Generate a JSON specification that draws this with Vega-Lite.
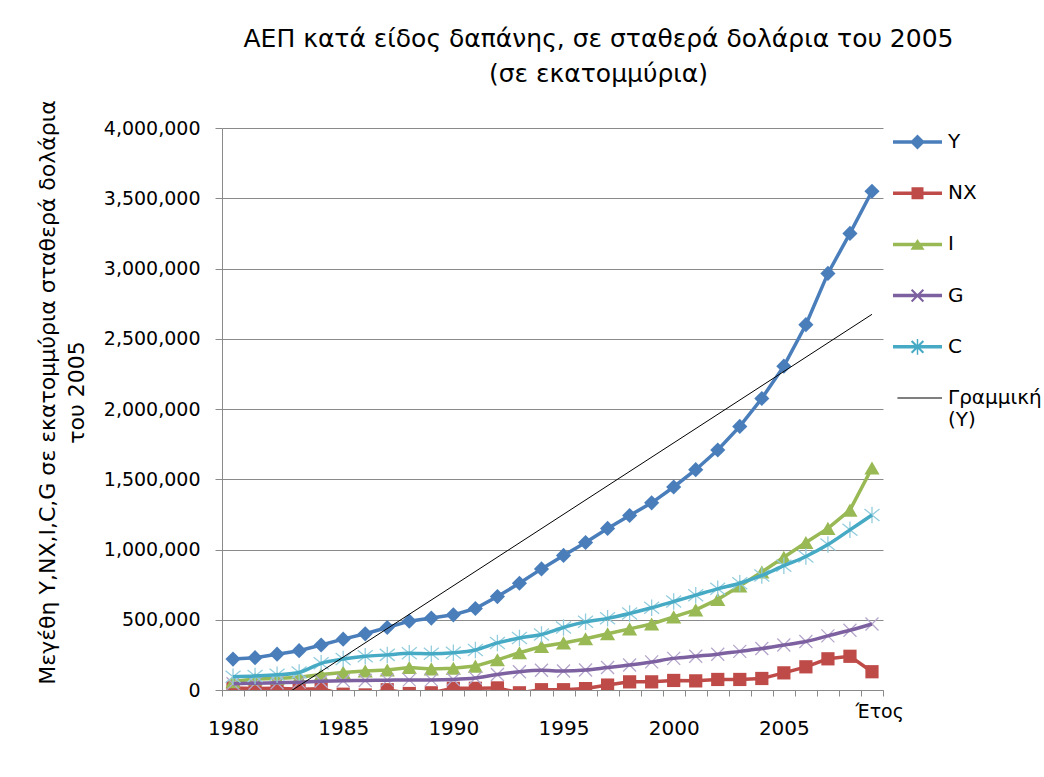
{
  "$schema": "https://vega.github.io/schema/vega-lite/v6.json",
  "autosize": {"type": "none"},
  "padding": {"left": 222, "top": 128, "right": 161, "bottom": 87},
  "width": 661,
  "height": 562,
  "background": "white",
  "title": {
    "text": ["ΑΕΠ κατά είδος δαπάνης, σε σταθερά δολάρια του 2005", "(σε εκατομμύρια)"],
    "fontSize": 25,
    "fontWeight": "normal",
    "font": "DejaVu Sans",
    "color": "black",
    "anchor": "middle",
    "frame": "group",
    "dx": 46,
    "offset": 13,
    "lineHeight": 35
  },
  "data": {"values": [
    {"year":1980,"series":"Y","value":220000},{"year":1981,"series":"Y","value":230000},{"year":1982,"series":"Y","value":255000},{"year":1983,"series":"Y","value":280000},{"year":1984,"series":"Y","value":320000},{"year":1985,"series":"Y","value":362000},{"year":1986,"series":"Y","value":400000},{"year":1987,"series":"Y","value":445000},{"year":1988,"series":"Y","value":490000},{"year":1989,"series":"Y","value":512000},{"year":1990,"series":"Y","value":535000},{"year":1991,"series":"Y","value":580000},{"year":1992,"series":"Y","value":665000},{"year":1993,"series":"Y","value":760000},{"year":1994,"series":"Y","value":862000},{"year":1995,"series":"Y","value":958000},{"year":1996,"series":"Y","value":1050000},{"year":1997,"series":"Y","value":1150000},{"year":1998,"series":"Y","value":1242000},{"year":1999,"series":"Y","value":1332000},{"year":2000,"series":"Y","value":1445000},{"year":2001,"series":"Y","value":1568000},{"year":2002,"series":"Y","value":1708000},{"year":2003,"series":"Y","value":1876000},{"year":2004,"series":"Y","value":2075000},{"year":2005,"series":"Y","value":2305000},{"year":2006,"series":"Y","value":2600000},{"year":2007,"series":"Y","value":2965000},{"year":2008,"series":"Y","value":3250000},{"year":2009,"series":"Y","value":3550000},
    {"year":1980,"series":"NX","value":15000},{"year":1981,"series":"NX","value":10000},{"year":1982,"series":"NX","value":12000},{"year":1983,"series":"NX","value":5000},{"year":1984,"series":"NX","value":8000},{"year":1985,"series":"NX","value":-30000},{"year":1986,"series":"NX","value":-35000},{"year":1987,"series":"NX","value":2000},{"year":1988,"series":"NX","value":-25000},{"year":1989,"series":"NX","value":-20000},{"year":1990,"series":"NX","value":12000},{"year":1991,"series":"NX","value":12000},{"year":1992,"series":"NX","value":15000},{"year":1993,"series":"NX","value":-20000},{"year":1994,"series":"NX","value":2000},{"year":1995,"series":"NX","value":2000},{"year":1996,"series":"NX","value":10000},{"year":1997,"series":"NX","value":35000},{"year":1998,"series":"NX","value":58000},{"year":1999,"series":"NX","value":58000},{"year":2000,"series":"NX","value":68000},{"year":2001,"series":"NX","value":65000},{"year":2002,"series":"NX","value":75000},{"year":2003,"series":"NX","value":75000},{"year":2004,"series":"NX","value":82000},{"year":2005,"series":"NX","value":122000},{"year":2006,"series":"NX","value":165000},{"year":2007,"series":"NX","value":222000},{"year":2008,"series":"NX","value":240000},{"year":2009,"series":"NX","value":130000},
    {"year":1980,"series":"I","value":60000},{"year":1981,"series":"I","value":78000},{"year":1982,"series":"I","value":82000},{"year":1983,"series":"I","value":90000},{"year":1984,"series":"I","value":110000},{"year":1985,"series":"I","value":125000},{"year":1986,"series":"I","value":135000},{"year":1987,"series":"I","value":142000},{"year":1988,"series":"I","value":160000},{"year":1989,"series":"I","value":150000},{"year":1990,"series":"I","value":155000},{"year":1991,"series":"I","value":170000},{"year":1992,"series":"I","value":215000},{"year":1993,"series":"I","value":265000},{"year":1994,"series":"I","value":310000},{"year":1995,"series":"I","value":335000},{"year":1996,"series":"I","value":365000},{"year":1997,"series":"I","value":400000},{"year":1998,"series":"I","value":435000},{"year":1999,"series":"I","value":470000},{"year":2000,"series":"I","value":520000},{"year":2001,"series":"I","value":570000},{"year":2002,"series":"I","value":645000},{"year":2003,"series":"I","value":740000},{"year":2004,"series":"I","value":840000},{"year":2005,"series":"I","value":945000},{"year":2006,"series":"I","value":1050000},{"year":2007,"series":"I","value":1150000},{"year":2008,"series":"I","value":1280000},{"year":2009,"series":"I","value":1580000},
    {"year":1980,"series":"G","value":45000},{"year":1981,"series":"G","value":48000},{"year":1982,"series":"G","value":52000},{"year":1983,"series":"G","value":56000},{"year":1984,"series":"G","value":62000},{"year":1985,"series":"G","value":66000},{"year":1986,"series":"G","value":68000},{"year":1987,"series":"G","value":70000},{"year":1988,"series":"G","value":72000},{"year":1989,"series":"G","value":72000},{"year":1990,"series":"G","value":75000},{"year":1991,"series":"G","value":85000},{"year":1992,"series":"G","value":110000},{"year":1993,"series":"G","value":130000},{"year":1994,"series":"G","value":140000},{"year":1995,"series":"G","value":135000},{"year":1996,"series":"G","value":142000},{"year":1997,"series":"G","value":160000},{"year":1998,"series":"G","value":178000},{"year":1999,"series":"G","value":200000},{"year":2000,"series":"G","value":225000},{"year":2001,"series":"G","value":240000},{"year":2002,"series":"G","value":255000},{"year":2003,"series":"G","value":275000},{"year":2004,"series":"G","value":295000},{"year":2005,"series":"G","value":320000},{"year":2006,"series":"G","value":345000},{"year":2007,"series":"G","value":385000},{"year":2008,"series":"G","value":425000},{"year":2009,"series":"G","value":470000},
    {"year":1980,"series":"C","value":95000},{"year":1981,"series":"C","value":100000},{"year":1982,"series":"C","value":108000},{"year":1983,"series":"C","value":125000},{"year":1984,"series":"C","value":190000},{"year":1985,"series":"C","value":220000},{"year":1986,"series":"C","value":240000},{"year":1987,"series":"C","value":250000},{"year":1988,"series":"C","value":262000},{"year":1989,"series":"C","value":258000},{"year":1990,"series":"C","value":265000},{"year":1991,"series":"C","value":285000},{"year":1992,"series":"C","value":335000},{"year":1993,"series":"C","value":370000},{"year":1994,"series":"C","value":395000},{"year":1995,"series":"C","value":445000},{"year":1996,"series":"C","value":485000},{"year":1997,"series":"C","value":510000},{"year":1998,"series":"C","value":545000},{"year":1999,"series":"C","value":585000},{"year":2000,"series":"C","value":630000},{"year":2001,"series":"C","value":675000},{"year":2002,"series":"C","value":720000},{"year":2003,"series":"C","value":760000},{"year":2004,"series":"C","value":815000},{"year":2005,"series":"C","value":885000},{"year":2006,"series":"C","value":950000},{"year":2007,"series":"C","value":1035000},{"year":2008,"series":"C","value":1140000},{"year":2009,"series":"C","value":1245000}
  ]},
  "encoding": {
    "x": {
      "field": "year", "type": "quantitative",
      "scale": {"domain": [1979.5, 2009.5], "nice": false, "zero": false},
      "axis": {
        "values": [1979.5,1980.5,1981.5,1982.5,1983.5,1984.5,1985.5,1986.5,1987.5,1988.5,1989.5,1990.5,1991.5,1992.5,1993.5,1994.5,1995.5,1996.5,1997.5,1998.5,1999.5,2000.5,2001.5,2002.5,2003.5,2004.5,2005.5,2006.5,2007.5,2008.5,2009.5],
        "labelExpr": "datum.value % 5 == 4.5 && datum.value < 2009 ? toString(datum.value + 0.5) : ''",
        "labelOffset": 11,
        "labelFlush": false,
        "labelOverlap": false,
        "labelBound": false,
        "grid": false,
        "tickSize": 6,
        "tickColor": "#8a8a8a",
        "domainColor": "#8a8a8a",
        "labelFontSize": 20,
        "labelColor": "black",
        "labelPadding": 22,
        "title": "Έτος",
        "titleFontSize": 19,
        "titleFontWeight": "normal",
        "titleColor": "black",
        "titleAlign": "left",
        "titleBaseline": "alphabetic",
        "titleX": 633,
        "titleY": 27
      }
    },
    "y": {
      "field": "value", "type": "quantitative",
      "scale": {"domain": [0, 4000000], "nice": false},
      "axis": {
        "values": [0,500000,1000000,1500000,2000000,2500000,3000000,3500000,4000000],
        "format": ",.0f",
        "grid": true,
        "gridColor": "#8a8a8a",
        "tickSize": 7,
        "tickColor": "#8a8a8a",
        "domainColor": "#8a8a8a",
        "labelFontSize": 19,
        "labelColor": "black",
        "labelPadding": 15,
        "title": ["Μεγέθη Y,NX,I,C,G σε εκατομμύρια σταθερά δολάρια", "του 2005"],
        "titleFontSize": 22,
        "titleFontWeight": "normal",
        "titleColor": "black",
        "titleLineHeight": 29,
        "titlePadding": 15,
        "titleY": 264
      }
    }
  },
  "layer": [
    {"transform": [{"filter": "datum.series === 'Y'"}], "mark": {"type": "line", "color": "#4A7EBB", "strokeWidth": 3.5, "clip": true}},
    {"transform": [{"filter": "datum.series === 'Y'"}], "mark": {"type": "point", "shape": "diamond", "filled": true, "color": "#4A7EBB", "size": 230, "opacity": 1, "clip": true}},
    {"transform": [{"filter": "datum.series === 'NX'"}], "mark": {"type": "line", "color": "#BE4B48", "strokeWidth": 3.5, "clip": true}},
    {"transform": [{"filter": "datum.series === 'NX'"}], "mark": {"type": "point", "shape": "square", "filled": true, "color": "#BE4B48", "size": 175, "opacity": 1, "clip": true}},
    {"transform": [{"filter": "datum.series === 'I'"}], "mark": {"type": "line", "color": "#98B954", "strokeWidth": 3.5, "clip": true}},
    {"transform": [{"filter": "datum.series === 'I'"}], "mark": {"type": "point", "shape": "triangle-up", "filled": true, "color": "#98B954", "size": 230, "opacity": 1, "clip": true}},
    {"transform": [{"filter": "datum.series === 'G'"}], "mark": {"type": "point", "shape": "M-1,-1L1,1M-1,1L1,-1", "filled": false, "color": "#B5A6CB", "strokeWidth": 1.3, "size": 169, "opacity": 1, "clip": true}},
    {"transform": [{"filter": "datum.series === 'G'"}], "mark": {"type": "line", "color": "#7D60A0", "strokeWidth": 3.5, "interpolate": "monotone", "clip": true}},
    {"transform": [{"filter": "datum.series === 'C'"}], "mark": {"type": "point", "shape": "M-1,-0.8L1,0.8M-1,0.8L1,-0.8M0,-1.1V1.1", "filled": false, "color": "#93CDDD", "strokeWidth": 1.3, "size": 225, "opacity": 1, "clip": true}},
    {"transform": [{"filter": "datum.series === 'C'"}], "mark": {"type": "line", "color": "#46AAC5", "strokeWidth": 3.5, "interpolate": "monotone", "clip": true}},
    {"transform": [{"filter": "datum.series === 'Y'"}, {"regression": "value", "on": "year", "extent": [1980, 2009]}], "mark": {"type": "line", "color": "black", "strokeWidth": 1, "clip": true}},
    {
      "transform": [{"filter": "false"}],
      "mark": {"type": "point", "filled": true, "opacity": 1},
      "encoding": {
        "color": {
          "field": "series", "type": "nominal",
          "scale": {"domain": ["Y", "NX", "I", "G", "C", "Γραμμική (Y)"], "range": ["#4A7EBB", "#BE4B48", "#98B954", "#7D60A0", "#46AAC5", "black"]},
          "legend": {"title": null, "orient": "none", "legendX": 671, "legendY": -10.5, "padding": 0, "symbolSize": 2401, "symbolStrokeWidth": 0, "labelFontSize": 20, "labelColor": "black", "labelOffset": 6, "rowPadding": 16.2, "labelLimit": 0, "labelExpr": "datum.label == 'Γραμμική (Y)' ? ['Γραμμική', '(Y)'] : datum.label", "encode": {"labels": {"update": {"lineHeight": {"value": 32}, "baseline": {"value": "top"}, "dy": {"value": -12}}}}}
        },
        "shape": {
          "field": "series", "type": "nominal",
          "scale": {"domain": ["Y", "NX", "I", "G", "C", "Γραμμική (Y)"], "range": [
            "M-1,-0.071H1V0.071H-1Z M0,-0.306L0.306,0L0,0.306L-0.306,0Z",
            "M-1,-0.071H1V0.071H-1Z M-0.245,-0.245H0.245V0.245H-0.245Z",
            "M-1,-0.071H1V0.071H-1Z M0,-0.22L0.286,0.22H-0.286Z",
            "M-1,-0.071H1V0.071H-1Z M-0.21,-0.27L0.27,0.21L0.21,0.27L-0.27,-0.21Z M0.21,-0.27L0.27,-0.21L-0.21,0.27L-0.27,0.21Z",
            "M-1,-0.071H1V0.071H-1Z M-0.21,-0.27L0.27,0.21L0.21,0.27L-0.27,-0.21Z M0.21,-0.27L0.27,-0.21L-0.21,0.27L-0.27,0.21Z M-0.03,-0.32H0.03V0.32H-0.03Z",
            "M-0.82,-0.025H1V0.025H-0.82Z"
          ]},
          "legend": {"title": null, "orient": "none", "legendX": 671, "legendY": -10.5, "padding": 0, "symbolSize": 2401, "symbolStrokeWidth": 0, "labelFontSize": 20, "labelColor": "black", "labelOffset": 6, "rowPadding": 16.2, "labelLimit": 0, "labelExpr": "datum.label == 'Γραμμική (Y)' ? ['Γραμμική', '(Y)'] : datum.label", "encode": {"labels": {"update": {"lineHeight": {"value": 32}, "baseline": {"value": "top"}, "dy": {"value": -12}}}}}
        }
      }
    }
  ],
  "config": {
    "font": "DejaVu Sans",
    "view": {"stroke": null},
    "axis": {"labelFont": "DejaVu Sans", "titleFont": "DejaVu Sans"},
    "legend": {"labelFont": "DejaVu Sans"}
  }
}
